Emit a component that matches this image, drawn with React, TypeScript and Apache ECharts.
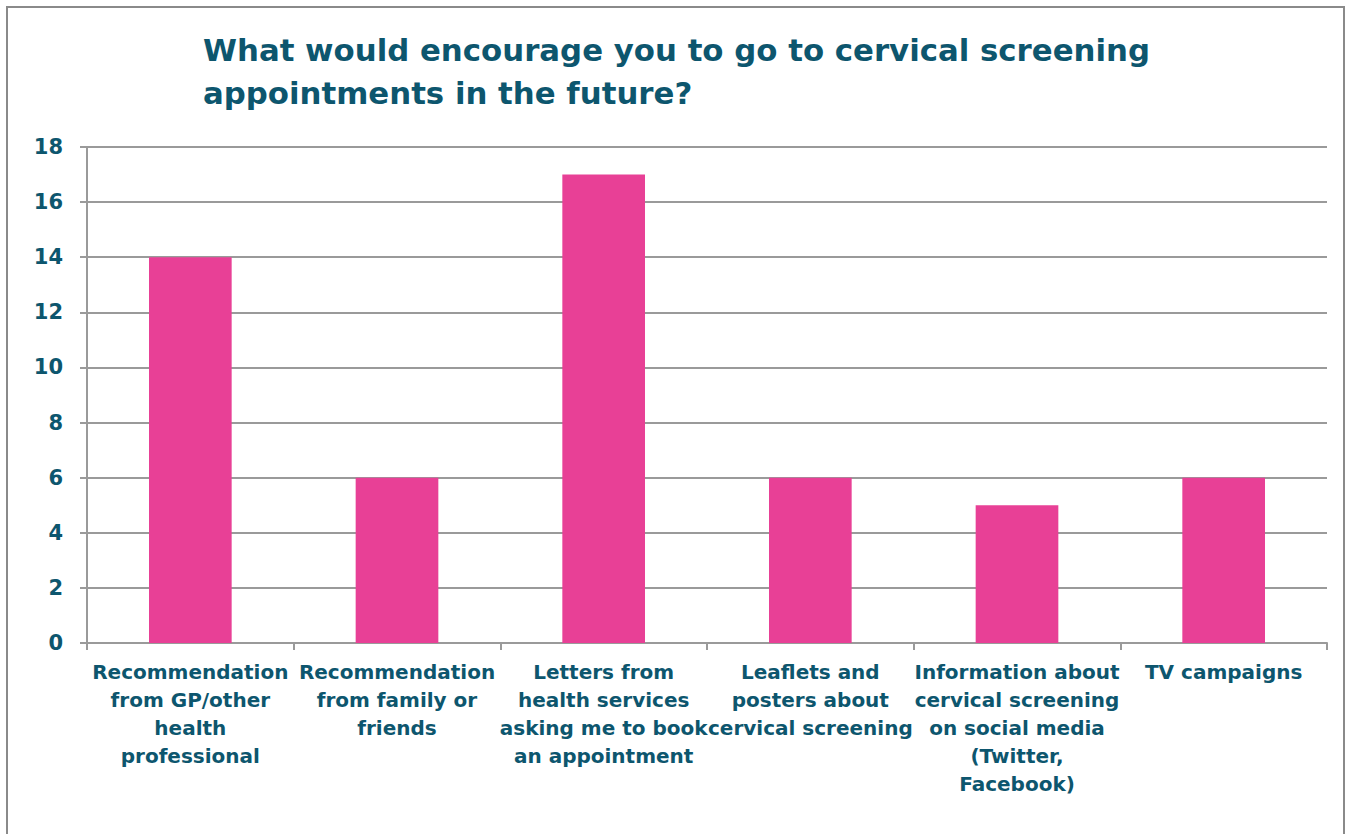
import React, { useEffect, useRef } from "react";
import * as echarts from "echarts";

const titleText = "What would encourage you to go to cervical screening\nappointments in the future?";
const categories = [
  "Recommendation\nfrom GP/other\nhealth\nprofessional",
  "Recommendation\nfrom family or\nfriends",
  "Letters from\nhealth services\nasking me to book\nan appointment",
  "Leaflets and\nposters about\ncervical screening",
  "Information about\ncervical screening\non social media\n(Twitter,\nFacebook)",
  "TV campaigns",
];
const values = [14, 6, 17, 6, 5, 6];
const yMin = 0;
const yMax = 18;
const yStep = 2;

const TEXT = "#0d566e";
const GRID = "#9a9a9a";
const FONT = "'DejaVu Sans', sans-serif";

export default function App() {
  const ref = useRef<HTMLDivElement>(null);
  useEffect(() => {
    if (!ref.current) return;
    const chart = echarts.init(ref.current, null, { renderer: "svg" });
    chart.setOption({
      animation: false,
      backgroundColor: "#ffffff",
      graphic: [
        {
          type: "rect",
          shape: { x: 7, y: 7, width: 1337, height: 900 },
          style: { fill: "none", stroke: "#8a8a8a", lineWidth: 2 },
          z: 0,
        },
      ],
      title: {
        text: titleText,
        left: 198,
        top: 23,
        textStyle: {
          color: TEXT,
          fontFamily: FONT,
          fontWeight: "bold",
          fontSize: 30.8,
          lineHeight: 43,
        },
      },
      grid: { left: 87, right: 24, top: 147, bottom: 191, containLabel: false },
      xAxis: {
        type: "category",
        data: categories,
        axisLine: { show: true, lineStyle: { color: GRID, width: 2 } },
        axisTick: { show: true, length: 7, alignWithLabel: false, lineStyle: { color: GRID, width: 2 } },
        axisLabel: {
          interval: 0,
          color: TEXT,
          fontFamily: FONT,
          fontWeight: "bold",
          fontSize: 20,
          lineHeight: 28,
          margin: 15,
          align: "center",
        },
      },
      yAxis: {
        type: "value",
        min: yMin,
        max: yMax,
        interval: yStep,
        axisLine: { show: true, lineStyle: { color: GRID, width: 2 } },
        axisTick: { show: true, length: 7, inside: false, lineStyle: { color: GRID, width: 2 } },
        splitLine: { show: true, lineStyle: { color: GRID, width: 2 } },
        axisLabel: {
          color: TEXT,
          fontFamily: FONT,
          fontWeight: "bold",
          fontSize: 21,
          margin: 24,
        },
      },
      series: [
        {
          type: "bar",
          data: values,
          barWidth: "40%",
          itemStyle: { color: "#e84096" },
        },
      ],
    });
    return () => chart.dispose();
  }, []);
  return (
    <div
      ref={ref}
      style={{ position: "absolute", left: 0, top: 0, width: 1351, height: 834 }}
    />
  );
}
